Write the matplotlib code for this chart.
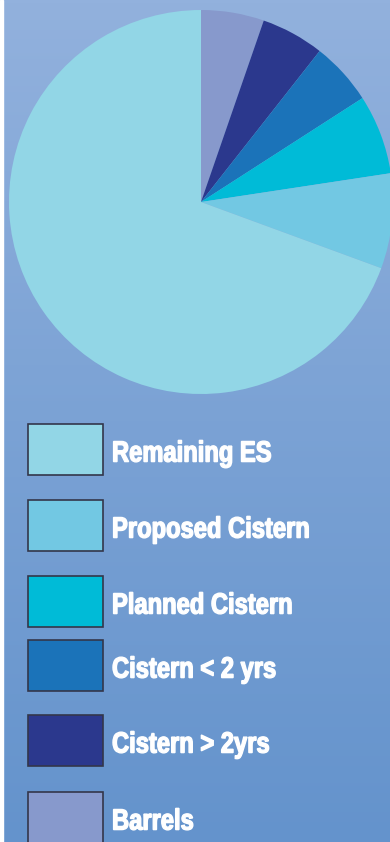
import matplotlib
matplotlib.use("Agg")
import matplotlib.pyplot as plt
import numpy as np
from matplotlib.patches import Rectangle, PathPatch
from matplotlib.textpath import TextPath
from matplotlib.font_manager import FontProperties
from matplotlib.transforms import Affine2D

# slice shares, clockwise from 12 o'clock
labels = ["Barrels", "Cistern > 2yrs", "Cistern < 2 yrs", "Planned Cistern",
          "Proposed Cistern", "Remaining ES"]
shares = [5.3, 5.3, 5.3, 6.7, 8.0, 69.4]
colors = ["#8799cc", "#2b388d", "#1b73b9", "#00bbd7", "#72c8e3", "#92d6e6"]

W, H = 390, 842
fig = plt.figure(figsize=(W / 100, H / 100), dpi=100)

# gradient background
bg = fig.add_axes([0, 0, 1, 1])
grad = np.linspace(0, 1, 256)[:, None]
top = np.array([146, 177, 221]) / 255
bot = np.array([100, 147, 204]) / 255
img = top[None, None, :] * (1 - grad[:, :, None]) + bot[None, None, :] * grad[:, :, None]
bg.imshow(img, aspect="auto", extent=[0, W, H, 0])
bg.add_patch(Rectangle((0, 0), 3, H, color="white", zorder=2))
bg.set_xlim(0, W)
bg.set_ylim(H, 0)
bg.axis("off")

# pie
cx, cy, r = 201, 202, 192
pax = fig.add_axes([(cx - r) / W, 1 - (cy + r) / H, 2 * r / W, 2 * r / H])
pax.pie(shares, colors=colors, startangle=90, counterclock=False, radius=1,
        wedgeprops=dict(linewidth=0))
pax.set_xlim(-1, 1)
pax.set_ylim(-1, 1)
pax.axis("off")

# legend, drawn in pixel space; labels are condensed bold text paths
leg = fig.add_axes([0, 0, 1, 1])
leg.set_xlim(0, W)
leg.set_ylim(H, 0)
leg.axis("off")
fp = FontProperties(family="Liberation Sans", weight="bold")
legend_tops = [424, 500, 576, 640, 715, 792]
for top_y, lab, col in zip(legend_tops, labels[::-1], colors[::-1]):
    leg.add_patch(Rectangle((28, top_y), 75, 51, facecolor=col,
                            edgecolor="#33364a", linewidth=1.2))
    tp = TextPath((0, 0), lab, size=29.3, prop=fp)
    tr = Affine2D().scale(0.81, -1).translate(112, top_y + 37.6) + leg.transData
    leg.add_patch(PathPatch(tp, facecolor="white", edgecolor="white",
                            linewidth=1.0, transform=tr))

fig.savefig("out.png", dpi=100)
